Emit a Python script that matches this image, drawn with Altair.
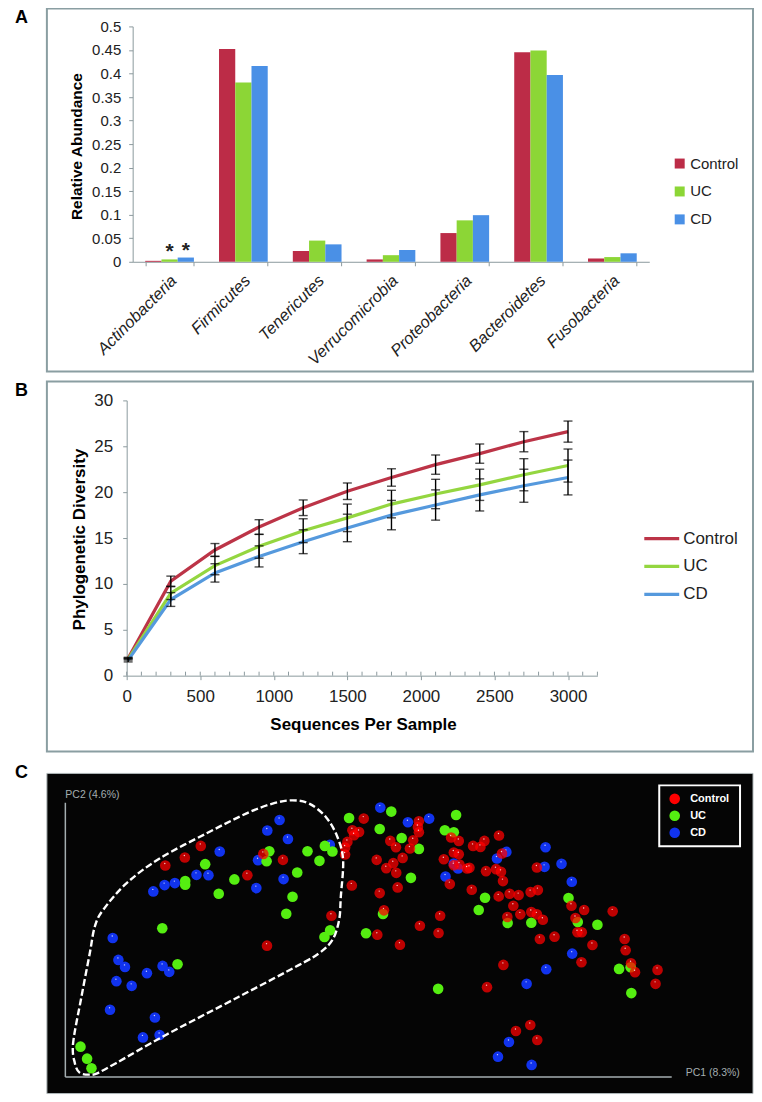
import altair as alt
import pandas as pd

FONT = "Liberation Sans"
GROUPS = ["Control", "UC", "CD"]
COL_BAR = ["#BC2C47", "#8CD636", "#4A90E6"]
COL_LINE = ["#BC3447", "#94D640", "#5599DD"]
FRAME = "#8A9EA2"
AXC = "#8C9A9E"

# Panel A
phyla = ["Actinobacteria", "Firmicutes", "Tenericutes", "Verrucomicrobia",
         "Proteobacteria", "Bacteroidetes", "Fusobacteria"]
a_control = [0.002, 0.452, 0.023, 0.005, 0.061, 0.445, 0.007]
a_uc = [0.005, 0.381, 0.045, 0.014, 0.088, 0.449, 0.010]
a_cd = [0.009, 0.416, 0.037, 0.025, 0.099, 0.397, 0.018]
star_groups = ["UC", "CD"]
star_heights = [0.014, 0.016]

# Panel B
seqs = [10, 300, 600, 900, 1200, 1500, 1800, 2100, 2400, 2700, 3000]
b_control = [1.9, 10.3, 13.7, 16.2, 18.3, 20.1, 21.6, 23.0, 24.2, 25.5, 26.6]
b_uc = [1.8, 9.0, 12.0, 14.1, 15.8, 17.2, 18.7, 19.8, 20.8, 21.9, 22.9]
b_cd = [1.7, 8.3, 11.2, 13.0, 14.6, 16.1, 17.5, 18.6, 19.7, 20.7, 21.6]
e_control = [0.1, 0.55, 0.7, 0.8, 0.85, 0.9, 0.95, 1.05, 1.05, 1.1, 1.15]
e_uc = [0.1, 0.7, 1.0, 1.3, 1.3, 1.5, 1.5, 1.6, 1.7, 1.75, 1.8]
e_cd = [0.2, 0.75, 1.0, 1.15, 1.3, 1.5, 1.6, 1.65, 1.75, 1.8, 1.9]
minor_ticks = [0, 100, 200, 300, 400, 500, 600, 700, 800, 900, 1000, 1100, 1200, 1300, 1400, 1500, 1600, 1700,
               1800, 1900, 2000, 2100, 2200, 2300, 2400, 2500, 2600, 2700, 2800, 2900, 3000, 3100, 3200]

# Panel C
green = [(80.7,1047),(87.3,1059),(91.7,1068.7),(162.7,928.3),(178,964.3),(205.7,864),(185.7,881),
 (185.7,884.7),(235,879.3),(219.3,893.7),(270,851),(267.3,861),(308.3,851),(325.7,845.7),(333.3,851.3),
 (320.3,860.7),(298,872.3),(293.3,896.7),(287,913.7),(331,930.3),(325.3,937),(350,817.7),(392.3,811.3),
 (380.7,828.7),(402.7,837.7),(420,848.7),(412,877.7),(384,914),(367,933.3),(457.3,814.7),(446,830),
 (455,832),(486.3,897.7),(480,910),(509,923),(532.7,922.7),(570,898),(579.3,922),(599,924.7),(620.7,969),
 (632.3,967.3),(633,993.3),(439.3,989)]
blue = [(113,938),(118.7,960),(125.3,967),(147.3,973.3),(163,966),(169.7,972),(116.7,981.3),(132,986),
 (110.3,1010),(155.3,1017.7),(143.3,1037.7),(160,1035.3),(153.7,891.3),(165,885),(175.3,883),(197,874.7),
 (209,875),(220.3,851.3),(257,888),(258.7,860),(284.3,879),(268,830.3),(280.3,819.7),(288.7,838.7),
 (330.7,844.7),(381.3,807.3),(409,822),(430.3,818.3),(446.7,876.3),(459.3,868.3),(455,863.3),(498.3,858.3),
 (507.7,851.7),(547,847),(546,866.7),(563,863.7),(573.3,881.7),(573.7,953.7),(547.7,969.3),(528,984),
 (510.3,1042.3),(499.3,1057),(533,1065.3)]
red = [(165.7,865.3),(185.3,857.3),(201.3,845.7),(248,875),(264,853.7),(283.7,859.7),(267.7,945.7),(332.3,915.7),
 (364.7,818.3),(353.3,830),(360,831.7),(355,835),(348.3,841.7),(346,847.3),(346,854.3),(352.7,885.3),
 (380.7,893),(398.7,887.3),(385,910.3),(378.3,934.7),(401,944.7),(421,925.7),(441.3,915.7),(439.7,933),
 (377.7,859.7),(387.3,868),(394.3,863),(403.7,857.7),(397.3,872.7),(391.3,840.7),(397,847),(411,848.3),
 (414.3,840),(420,832),(419,826.7),(420,821),(445,859),(452.3,837.3),(460,840.7),(455,852.3),(460,854),
 (455,865),(460.7,864.3),(468.3,868.3),(470.7,867.7),(451,884),(473,889.7),(474.3,845.7),(481.7,846.7),
 (485.7,840.7),(500.3,835.3),(487.3,871),(497.3,869),(502.3,871.7),(504.3,881),(503.3,853.3),(500,896.3),
 (511,893.7),(520,895),(514.7,905.7),(521.7,914.3),(508.7,917),(532,892),(539.3,890),(532.7,912),
 (538.3,914.3),(544.3,919.7),(541.3,939),(556,936.7),(538.3,867.3),(573,905.7),(585.7,910),(577,918),
 (579,932.3),(583.3,932.3),(594,945),(614.3,911.3),(626.3,939),(627.3,950.3),(583,962.3),(632.7,963.3),
 (636.7,972.3),(659.3,970),(657.3,984),(504.7,965),(488.3,987.3),(531.7,1025.3),(517.3,1031.3),(538.7,1040.3)]
lasso = [(90,1075),(80,1073.3),(75,1063.3),(73.3,1043.3),(81.7,996.7),(90,953.3),(95,926.7),(103.3,910),
 (126.7,883.3),(160,858.3),(206.7,833.3),(246.7,813.3),(273.3,803.3),(293.3,800),(310,803.3),(326.7,816.7),
 (338.3,836.7),(344,860),(341.7,896.7),(340,920),(333.3,940),(320,953.3),(300,965),(240,996.7),(166.7,1035),
 (116.7,1063.3),(96.7,1074),(90,1075)]

one = pd.DataFrame({"f": [0]})
W = 708


def frame(y0, y1, x0=0, x1=W, fill="transparent", stroke=FRAME, sw=2):
    return alt.Chart(one).mark_rect(fill=fill, stroke=stroke, strokeWidth=sw).encode(
        x=alt.value(x0), x2=alt.value(x1), y=alt.value(y0), y2=alt.value(y1))


def letter(t, y):
    return alt.Chart(one).mark_text(text=t, font=FONT, fontSize=18, fontWeight="bold", align="left",
                                    baseline="middle", color="black").encode(x=alt.value(-32), y=alt.value(y))


# ---------- A ----------
HA = 373
dfa = pd.DataFrame({"phylum": phyla * 3, "group": sum([[g] * 7 for g in GROUPS], []),
                    "v": a_control + a_uc + a_cd})
xa = alt.X("phylum:N", sort=phyla, scale=alt.Scale(range=[86, 604], paddingInner=0.34, paddingOuter=0.17),
           axis=alt.Axis(title=None, labelAngle=315, labelAlign="right", labelBaseline="middle",
                         labelFontStyle="italic", labelFontSize=16.5, labelColor="#222", labelFont=FONT,
                         tickBand="extent", domainColor=AXC, tickColor=AXC, tickSize=4, labelPadding=12, labelOffset=4,
                         offset=254 - HA, labelOverlap=False))
ya = alt.Y("v:Q", scale=alt.Scale(domain=[0, 0.5], range=[254, 18], nice=False),
           axis=alt.Axis(title="Relative Abundance", titleFont=FONT, titleFontSize=15.5, titleFontWeight="bold",
                         titleColor="black", titleX=-48, titleY=138, titleAngle=270,
                         values=[i * 0.05 for i in range(11)], format="~g", labelFontSize=15, labelColor="#222",
                         labelFont=FONT, domainColor=AXC, tickColor=AXC, tickSize=4, grid=False, offset=-86,
                         labelPadding=8))
xo = alt.XOffset("group:N", sort=GROUPS, scale=alt.Scale(paddingInner=0, paddingOuter=0))
bars = alt.Chart(dfa).mark_bar().encode(
    x=xa, y=ya, xOffset=xo,
    color=alt.Color("group:N", sort=GROUPS, scale=alt.Scale(domain=GROUPS, range=COL_BAR),
                    legend=alt.Legend(title=None, orient="none", legendX=627, legendY=148, symbolType="square",
                                      symbolSize=100, labelFontSize=15, labelFont=FONT, labelColor="#222",
                                      rowPadding=12, labelOffset=3)))
stars = alt.Chart(pd.DataFrame({"phylum": [phyla[0]] * 2, "group": star_groups, "v": star_heights})).mark_text(
    text="*", font=FONT, fontSize=21, fontWeight="bold", color="#222", baseline="top", dy=-14).encode(x=xa, y=ya, xOffset=xo)
panel_a = alt.layer(frame(0, 364), bars, stars, letter("A", 9.9)).properties(width=W, height=HA)

# ---------- B ----------
HB = 381
dfb = pd.DataFrame({"seq": seqs * 3, "group": sum([[g] * 11 for g in GROUPS], []),
                    "v": b_control + b_uc + b_cd, "e": e_control + e_uc + e_cd})
dfb["lo"] = dfb.v - dfb.e
dfb["hi"] = dfb.v + dfb.e
scale_yb = alt.Scale(domain=[0, 30], range=[295, 19], nice=False)
axis_yb = alt.Axis(title="Phylogenetic Diversity", titleFont=FONT, titleFontSize=17, titleFontWeight="bold",
                   titleColor="black", titleX=-38, titleY=158, titleAngle=270, values=list(range(0, 31, 5)),
                   labelFontSize=17, labelColor="#222", labelFont=FONT, domainColor=AXC, tickColor=AXC,
                   tickSize=4, grid=False, offset=-80, labelPadding=10)
xb = alt.X("seq:Q", scale=alt.Scale(domain=[0, 3200], range=[80, 552], nice=False),
           axis=alt.Axis(title="Sequences Per Sample", titleFont=FONT, titleFontSize=17, titleFontWeight="bold",
                         titleColor="black", titleX=317, titleY=41, values=list(range(0, 3001, 500)), format="d",
                         labelFontSize=17, labelColor="#222", labelFont=FONT, domainColor=AXC, tickColor=AXC,
                         tickSize=4, grid=False, offset=295 - HB, labelPadding=9, labelFlush=False))
yb = alt.Y("v:Q", scale=scale_yb, axis=axis_yb)
lines = alt.Chart(dfb).mark_line(strokeWidth=3.2).encode(
    x=xb, y=yb,
    color=alt.Color("group:N", sort=GROUPS, scale=alt.Scale(domain=GROUPS, range=COL_LINE),
                    legend=alt.Legend(title=None, orient="none", legendX=597, legendY=138, symbolType="stroke",
                                      symbolSize=1225, symbolStrokeWidth=3.2, labelFontSize=17, labelFont=FONT,
                                      labelColor="#222", rowPadding=-4.5, labelOffset=2)))
err = alt.Chart(dfb).mark_rule(color="black", strokeWidth=1.4).encode(
    x=xb, y=alt.Y("lo:Q", scale=scale_yb, axis=axis_yb), y2="hi:Q")
cap_lo = alt.Chart(dfb).mark_tick(color="black", orient="horizontal", size=9, thickness=1.4).encode(
    x=xb, y=alt.Y("lo:Q", scale=scale_yb, axis=axis_yb))
cap_hi = alt.Chart(dfb).mark_tick(color="black", orient="horizontal", size=9, thickness=1.4).encode(
    x=xb, y=alt.Y("hi:Q", scale=scale_yb, axis=axis_yb))
minor = alt.Chart(pd.DataFrame({"seq": minor_ticks})).mark_rule(color=AXC, strokeWidth=1).encode(
    x=xb, y=alt.value(291), y2=alt.value(295))
panel_b = alt.layer(frame(0, 371), lines, err, cap_lo, cap_hi, minor, letter("B", 9.6)).properties(
    width=W, height=HB)

# ---------- C ----------
HC = 333
LEG = alt.Legend(title=None, orient="none", legendX=616, legendY=24, symbolType="circle", symbolSize=113,
                 labelFontSize=11, labelFont=FONT, labelFontWeight="bold", labelColor="white",
                 padding=7, rowPadding=5, labelOffset=9)
xc = alt.X("px:Q", scale=alt.Scale(domain=[65, 673], range=[18, 626], nice=False, zero=False),
           axis=alt.Axis(title="PC1 (8.3%)", titleFont=FONT, titleFontSize=10.5, titleFontWeight="normal",
                         titleColor="#A4AEB0", titleX=640, titleY=-4, titleAlign="left", titleBaseline="middle",
                         labels=False, ticks=False, grid=False, domainColor="#A4AEB0", domainWidth=1.5,
                         offset=316 - HC, zindex=1))
yc = alt.Y("py:Q", scale=alt.Scale(domain=[802, 1077], range=[41, 316], nice=False, zero=False),
           axis=alt.Axis(title="PC2 (4.6%)", titleFont=FONT, titleFontSize=10.5, titleFontWeight="normal",
                         titleColor="#A4AEB0", titleX=0, titleY=33, titleAngle=0, titleAlign="left",
                         titleBaseline="middle", labels=False, ticks=False, grid=False, domainColor="#A4AEB0",
                         domainWidth=1.5, offset=-18, zindex=1))
color_c = alt.Color("group:N", sort=GROUPS, scale=alt.Scale(domain=GROUPS, range=["#FF0000", "#55EE11", "#1133EE"]),
                    legend=LEG)
layers_c = [frame(12, HC, fill="#050505", stroke="#B0B8BA", sw=1), letter("C", 11.6)]
for name, pts, op in [("CD", blue, 1), ("UC", green, 1), ("Control", red, 0.74)]:
    d = pd.DataFrame(pts, columns=["px", "py"])
    d["group"] = name
    layers_c.append(alt.Chart(d).mark_circle(size=113, opacity=op).encode(x=xc, y=yc, color=color_c))
    if name != "UC":
        layers_c.append(alt.Chart(d).mark_circle(size=2, opacity=0.8, color="white", yOffset=-2, xOffset=-0.5).encode(x=xc, y=yc))
dl = pd.DataFrame(lasso, columns=["px", "py"])
dl["i"] = range(len(dl))
layers_c.append(alt.Chart(dl).mark_line(color="white", strokeWidth=2.4, strokeDash=[7, 3], interpolate="cardinal").encode(
    x=xc, y=yc, order="i:Q"))
layers_c.append(frame(24, 85, 614, 695, stroke="white", sw=2))
panel_c = alt.layer(*layers_c).properties(width=W, height=HC)

chart = alt.vconcat(panel_a, panel_b, panel_c, spacing=0).resolve_scale(color="independent").properties(
    padding={"left": 7, "top": -2, "right": 0, "bottom": 0}).configure_view(stroke=None)
chart.save("out.html", embed_options={"renderer": "svg", "actions": False})
